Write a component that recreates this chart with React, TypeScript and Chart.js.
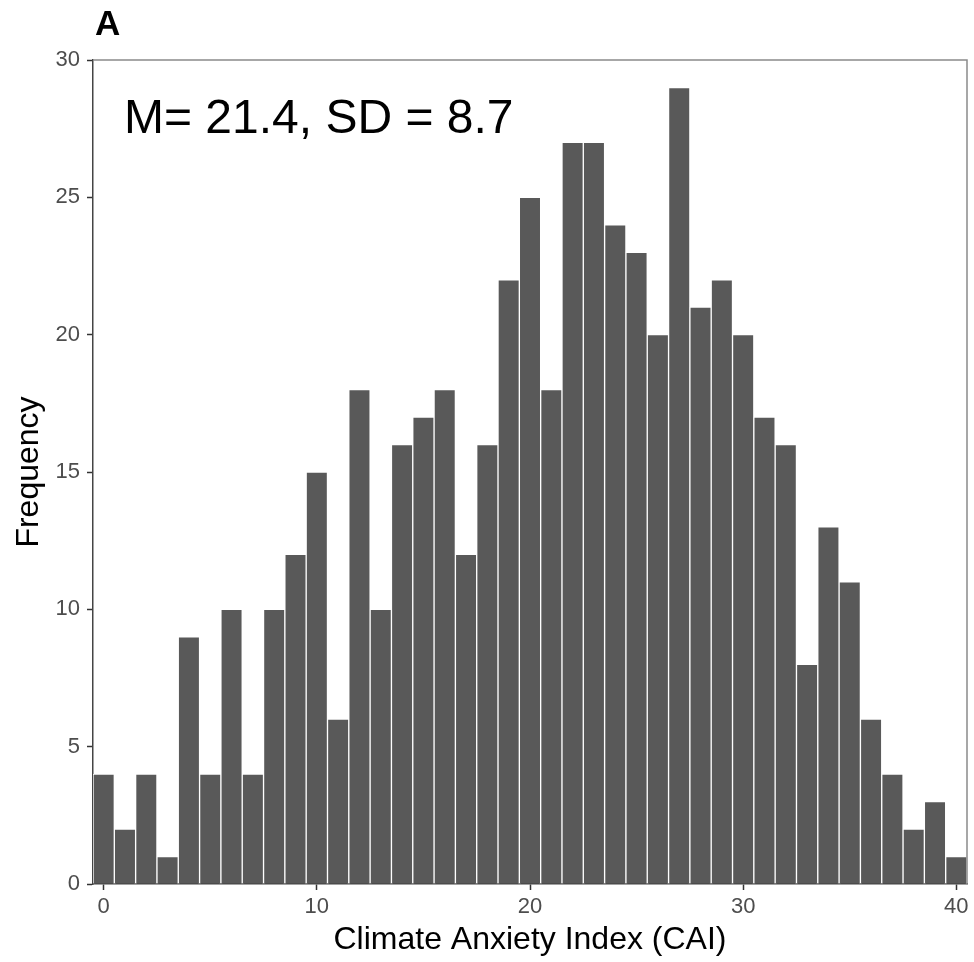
import React, { useEffect, useRef } from "react";
import { Chart, registerables } from "chart.js";

Chart.register(...registerables);

const binCenters: number[] = [
  0, 1, 2, 3, 4, 5, 6, 7, 8, 9, 10, 11, 12, 13, 14, 15, 16, 17, 18, 19, 20,
  21, 22, 23, 24, 25, 26, 27, 28, 29, 30, 31, 32, 33, 34, 35, 36, 37, 38, 39, 40,
];
const frequencies: number[] = [
  4, 2, 4, 1, 9, 4, 10, 4, 10, 12, 15, 6, 18, 10, 16, 17, 18, 12, 16, 22, 25,
  18, 27, 27, 24, 23, 20, 29, 21, 22, 20, 17, 16, 8, 13, 11, 6, 4, 2, 3, 1,
];
const xTicks: number[] = [0, 10, 20, 30, 40];
const yTicks: number[] = [0, 5, 10, 15, 20, 25, 30];
const xTitle = "Climate Anxiety Index (CAI)";
const yTitle = "Frequency";
const panelLabel = "A";
const annotation = "M= 21.4, SD = 8.7";

const FONT = "'Liberation Sans', Arial, Helvetica, sans-serif";

export default function App() {
  const ref = useRef<HTMLCanvasElement | null>(null);

  useEffect(() => {
    if (!ref.current) return;
    const decor = {
      id: "decor",
      afterDraw(chart: any) {
        const { ctx, chartArea } = chart;
        ctx.save();
        ctx.strokeStyle = "#8a8a8a";
        ctx.lineWidth = 1.5;
        ctx.beginPath();
        ctx.moveTo(chartArea.left, chartArea.top);
        ctx.lineTo(chartArea.right, chartArea.top);
        ctx.lineTo(chartArea.right, chartArea.bottom);
        ctx.stroke();
        ctx.fillStyle = "#000";
        ctx.textBaseline = "alphabetic";
        ctx.textAlign = "left";
        ctx.font = `bold 35px ${FONT}`;
        ctx.fillText(panelLabel, 95, 35);
        ctx.font = `48px ${FONT}`;
        ctx.fillText(annotation, 124, 133);
        ctx.restore();
      },
    };
    const chart = new Chart(ref.current, {
      type: "bar",
      data: {
        datasets: [
          {
            data: binCenters.map((x, i) => ({ x, y: frequencies[i] })),
            backgroundColor: "#595959",
            borderColor: "#ffffff",
            borderWidth: 1,
            barPercentage: 1,
            categoryPercentage: 1,
          },
        ],
      },
      options: {
        responsive: false,
        animation: false,
        devicePixelRatio: 1,
        layout: { padding: { top: 60, right: 7, left: 0, bottom: 0 } },
        plugins: { legend: { display: false }, tooltip: { enabled: false } },
        scales: {
          x: {
            type: "linear",
            min: -0.5,
            max: 40.5,
            offset: false,
            afterBuildTicks: (s: any) => {
              s.ticks = xTicks.map((v) => ({ value: v }));
            },
            afterFit: (s: any) => {
              s.height = 78;
            },
            grid: {
              offset: false,
              drawOnChartArea: false,
              drawTicks: true,
              tickLength: 6,
              tickColor: "#333333",
              tickWidth: 1.5,
              color: "#333333",
            },
            border: { display: true, color: "#444444", width: 1.5 },
            ticks: {
              color: "#4d4d4d",
              font: { family: FONT, size: 22 },
              padding: 4,
              maxRotation: 0,
              autoSkip: false,
              callback: (v: any) => String(v),
            },
            title: {
              display: true,
              text: xTitle,
              color: "#000",
              font: { family: FONT, size: 32 },
              padding: { top: 0, bottom: 3 },
            },
          },
          y: {
            type: "linear",
            min: 0,
            max: 30,
            afterBuildTicks: (s: any) => {
              s.ticks = yTicks.map((v) => ({ value: v }));
            },
            afterFit: (s: any) => {
              s.width = 93;
            },
            grid: {
              drawOnChartArea: false,
              drawTicks: true,
              tickLength: 6,
              tickColor: "#333333",
              tickWidth: 1.5,
              color: "#333333",
            },
            border: { display: true, color: "#444444", width: 1.5 },
            ticks: {
              color: "#4d4d4d",
              font: { family: FONT, size: 22 },
              padding: 7,
              callback: (v: any) => String(v),
            },
            title: {
              display: true,
              text: yTitle,
              color: "#000",
              font: { family: FONT, size: 32 },
              padding: { top: 10, bottom: 0 },
            },
          },
        },
      },
      plugins: [decor],
    });
    return () => chart.destroy();
  }, []);

  return (
    <div style={{ position: "fixed", left: 0, top: 0, width: 974, height: 962, background: "#fff" }}>
      <canvas ref={ref} width={974} height={962} style={{ display: "block" }} />
    </div>
  );
}
